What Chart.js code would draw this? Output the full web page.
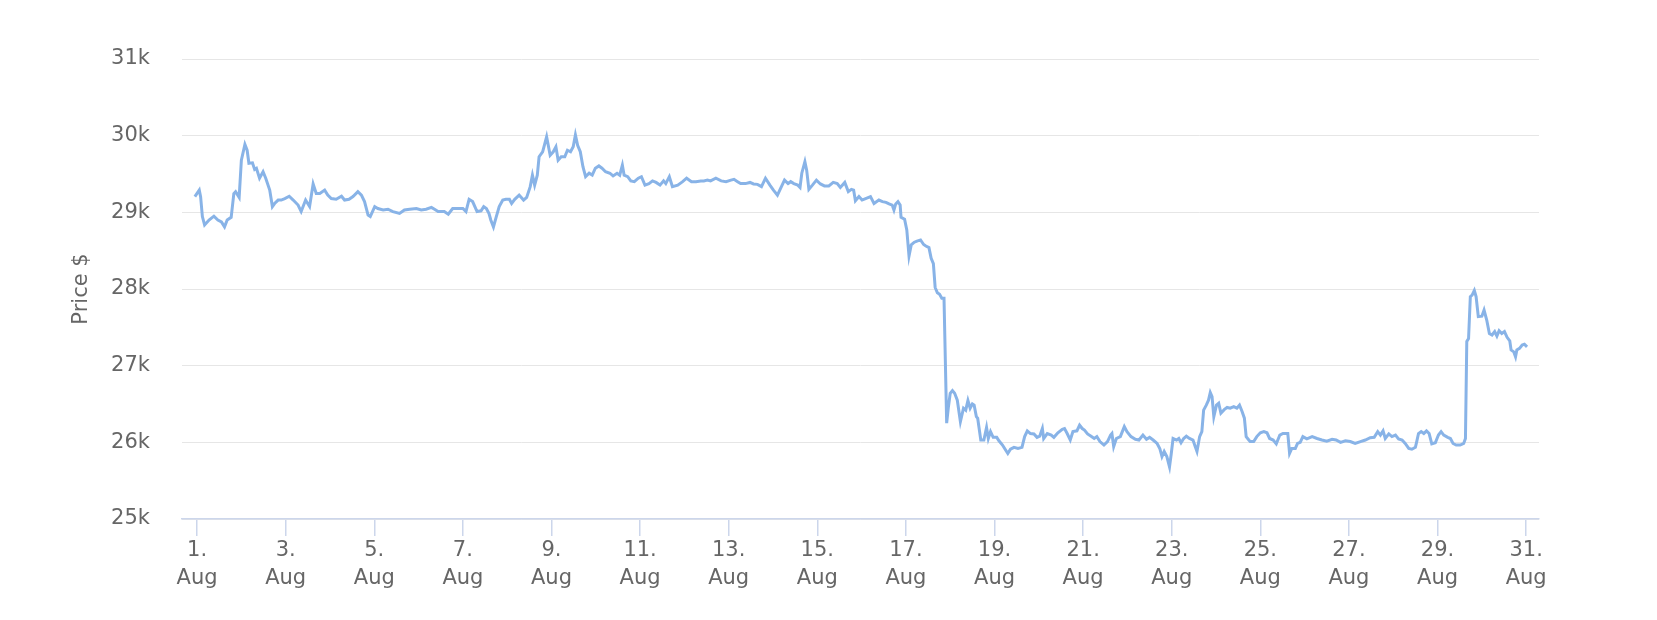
<!DOCTYPE html>
<html>
<head>
<meta charset="utf-8">
<title>Price $ - August</title>
<script src="https://cdn.jsdelivr.net/npm/chart.js@4.4.0/dist/chart.umd.min.js"></script>
<style>
  html, body { margin: 0; padding: 0; background: #ffffff; }
  #price-chart { display: block; }
</style>
</head>
<body>
<canvas id="price-chart" width="1657" height="620"></canvas>
<script>
// Fecha (dia del mes, fraccion = hora) y precio
const days = [
  0.95, 1.05, 1.08, 1.12, 1.17, 1.27, 1.38, 1.47, 1.55, 1.62, 1.68, 1.77, 1.83, 1.87, 1.95,
  2.00, 2.08, 2.13, 2.17, 2.25, 2.30, 2.34, 2.41, 2.49, 2.55, 2.64, 2.70, 2.75, 2.83, 2.90, 2.98,
  3.08, 3.17, 3.28, 3.35, 3.45, 3.54, 3.62, 3.69, 3.77, 3.88, 3.95,
  4.03, 4.14, 4.26, 4.33, 4.43, 4.52, 4.63, 4.71, 4.78, 4.86, 4.91,
  5.01, 5.08, 5.20, 5.31, 5.42, 5.57, 5.68, 5.80, 5.95,
  6.06, 6.17, 6.29, 6.36, 6.44, 6.58, 6.67, 6.77, 6.88,
  7.00, 7.07, 7.14, 7.22, 7.32, 7.41, 7.47, 7.53, 7.59, 7.63, 7.69, 7.75, 7.82, 7.90, 7.97,
  8.05, 8.10, 8.17, 8.27, 8.37, 8.44, 8.52, 8.57, 8.62, 8.68, 8.72, 8.80, 8.89, 8.97,
  9.04, 9.10, 9.15, 9.22, 9.30, 9.36, 9.43, 9.49, 9.54, 9.59, 9.65, 9.71, 9.77, 9.85, 9.92, 9.99,
  10.07, 10.14, 10.22, 10.32, 10.39, 10.48, 10.54, 10.60, 10.64, 10.72, 10.79, 10.87, 10.96,
  11.03, 11.11, 11.20, 11.28, 11.36, 11.45, 11.53, 11.58, 11.66, 11.73, 11.85, 11.96,
  12.05, 12.16, 12.26, 12.37, 12.44, 12.52, 12.59, 12.71, 12.83, 12.94,
  13.05, 13.12, 13.20, 13.27, 13.38, 13.48, 13.56, 13.65, 13.74, 13.83, 13.93,
  14.01, 14.10, 14.19, 14.26, 14.34, 14.40, 14.47, 14.56, 14.61, 14.65, 14.72, 14.76, 14.81, 14.89, 14.98,
  15.07, 15.16, 15.26, 15.36, 15.45, 15.52, 15.62, 15.70, 15.77, 15.82, 15.86, 15.94,
  16.01, 16.09, 16.20, 16.28, 16.39, 16.47, 16.55, 16.62, 16.69, 16.73, 16.77, 16.82, 16.87, 16.89, 16.97,
  17.02, 17.07, 17.12, 17.19, 17.25, 17.33, 17.40, 17.45, 17.52, 17.57, 17.62, 17.66, 17.71, 17.76, 17.81, 17.86, 17.92, 17.96,
  18.00, 18.05, 18.10, 18.16, 18.23, 18.30, 18.35, 18.40, 18.45, 18.50, 18.54, 18.59, 18.62, 18.69, 18.76, 18.82, 18.86, 18.91, 18.97,
  19.05, 19.10, 19.18, 19.25, 19.30, 19.36, 19.44, 19.53, 19.62, 19.68, 19.74, 19.81, 19.89, 19.96,
  20.02, 20.08, 20.11, 20.19, 20.28, 20.34, 20.43, 20.53, 20.58, 20.64, 20.71, 20.77, 20.86, 20.92, 20.98,
  21.03, 21.10, 21.18, 21.25, 21.31, 21.38, 21.47, 21.55, 21.62, 21.65, 21.69, 21.75, 21.84, 21.93, 21.99,
  22.08, 22.18, 22.26, 22.35, 22.43, 22.50, 22.58, 22.67, 22.73, 22.78, 22.83, 22.89, 22.95, 22.99,
  23.03, 23.11, 23.16, 23.21, 23.27, 23.33, 23.40, 23.48, 23.53, 23.57, 23.63, 23.68, 23.72, 23.78, 23.83, 23.87, 23.91, 23.95,
  24.01, 24.06, 24.11, 24.19, 24.25, 24.32, 24.40, 24.47, 24.53, 24.59, 24.64, 24.68, 24.74, 24.77, 24.85, 24.92,
  25.00, 25.08, 25.15, 25.21, 25.29, 25.36, 25.44, 25.51, 25.62, 25.66, 25.71, 25.79, 25.84, 25.90, 25.96,
  26.05, 26.17, 26.28, 26.39, 26.50, 26.62, 26.71, 26.81, 26.92,
  27.03, 27.14, 27.26, 27.37, 27.48, 27.57, 27.65, 27.71, 27.77, 27.82, 27.90, 27.97,
  28.05, 28.12, 28.20, 28.27, 28.35, 28.42, 28.50, 28.53, 28.57, 28.63, 28.69, 28.75, 28.81, 28.87, 28.95,
  29.02, 29.08, 29.14, 29.23, 29.29, 29.35, 29.42, 29.51, 29.59, 29.63, 29.66, 29.70, 29.74, 29.78, 29.83, 29.87, 29.92,
  30.00, 30.05, 30.11, 30.17, 30.23, 30.29, 30.34, 30.39, 30.45, 30.51, 30.57, 30.63, 30.66, 30.72, 30.76, 30.79, 30.85, 30.91, 30.96,
  31.02
];

const prices = [
  29205, 29290, 29205, 28945, 28835, 28900, 28950, 28900, 28875, 28810, 28900, 28935, 29245, 29270, 29195,
  29680, 29885, 29810, 29640, 29645, 29560, 29575, 29445, 29530, 29445, 29290, 29075, 29115, 29160, 29160, 29180,
  29210, 29160, 29095, 29010, 29160, 29075, 29370, 29245, 29245, 29290, 29225,
  29180, 29170, 29210, 29160, 29170, 29205, 29270, 29225, 29140, 28965, 28945,
  29075, 29050, 29030, 29040, 29010, 28985, 29030, 29040, 29050,
  29030, 29040, 29065, 29040, 29010, 29010, 28975, 29050, 29050,
  29050, 29010, 29170, 29140, 29010, 29020, 29075, 29050, 28985, 28900, 28810, 28935, 29075, 29160, 29170,
  29170, 29115, 29170, 29225, 29160, 29195, 29335, 29485, 29355, 29485, 29725, 29790, 29985, 29745,
  29790, 29855, 29680, 29725, 29725, 29810, 29790, 29855, 30010, 29875, 29790, 29595, 29465, 29510, 29485, 29575,
  29605, 29575, 29530, 29510, 29475, 29510, 29485, 29615, 29485, 29465, 29410, 29400, 29445,
  29465, 29355, 29375, 29410, 29390, 29355, 29410, 29375, 29465, 29335, 29355, 29400,
  29445, 29400, 29400, 29410, 29410, 29420, 29410, 29445, 29410, 29400,
  29420, 29430, 29400, 29375, 29375, 29390, 29370, 29365, 29335, 29445, 29355,
  29290, 29225, 29335, 29420, 29375, 29400, 29375, 29355, 29325, 29510, 29660, 29550, 29300, 29355, 29420,
  29370, 29345, 29345, 29390, 29375, 29325, 29390, 29270, 29300, 29290, 29150, 29205,
  29160, 29180, 29205, 29115, 29160, 29140, 29130, 29110, 29095, 29030, 29110, 29140, 29095, 28935, 28910,
  28770, 28430, 28575, 28610, 28625, 28640, 28580, 28560, 28540, 28400, 28330, 28020, 27950, 27930, 27880, 27880, 26250, 26465,
  26640, 26675, 26640, 26550, 26270, 26445, 26420, 26545, 26445, 26500, 26485, 26335, 26315, 26030, 26030, 26195, 26050, 26140, 26065,
  26065, 26020, 25965, 25900, 25855, 25910, 25935, 25920, 25935, 26075, 26150, 26115, 26110, 26065,
  26080, 26180, 26050, 26115, 26095, 26065, 26125, 26170, 26180, 26115, 26030, 26140, 26150, 26225, 26180,
  26160, 26110, 26080, 26050, 26075, 26010, 25965, 26010, 26095, 26115, 25945, 26050, 26075, 26205, 26140,
  26075, 26040, 26030, 26095, 26040, 26065, 26030, 25985, 25920, 25815, 25880, 25815, 25680, 25855,
  26050, 26030, 26050, 25995, 26050, 26080, 26050, 26030, 25945, 25880, 26075, 26140, 26420, 26485, 26550, 26650, 26595, 26335,
  26485, 26510, 26380, 26430, 26455, 26445, 26465, 26445, 26485, 26400, 26315, 26075, 26030, 26010, 26010, 26075,
  26125, 26140, 26125, 26050, 26030, 25980, 26095, 26115, 26115, 25855, 25920, 25920, 25985, 26000, 26075,
  26045, 26075, 26050, 26030, 26015, 26040, 26030, 26000, 26020,
  26010, 25985, 26010, 26030, 26060, 26065, 26140, 26095, 26150, 26050, 26110, 26075,
  26095, 26045, 26030, 25985, 25920, 25910, 25935, 26010, 26115, 26140, 26115, 26150, 26115, 25980, 25995,
  26095, 26140, 26095, 26065, 26050, 25985, 25965, 25965, 25985, 26050, 27315, 27355, 27900, 27920, 27980, 27900, 27640,
  27645, 27725, 27595, 27420, 27400, 27445, 27385, 27455, 27420, 27445, 27370, 27325, 27205, 27180, 27115, 27205, 27225, 27270, 27280,
  27245
];

// Etiquetas del eje x (dias impares) y del eje y
const tickDays = [1, 3, 5, 7, 9, 11, 13, 15, 17, 19, 21, 23, 25, 27, 29, 31];
const monthLabel = "Aug";
const yTicks = [25000, 26000, 27000, 28000, 29000, 30000, 31000];
const yTitle = "Price $";

const puntos = days.map((d, i) => ({ x: d, y: prices[i] }));

const ctx = document.getElementById("price-chart").getContext("2d");

new Chart(ctx, {
  type: "line",
  data: {
    datasets: [
      {
        label: yTitle,
        data: puntos,
        borderColor: "#88b3e7",
        borderWidth: 3,
        pointRadius: 0,
        tension: 0,
        fill: false,
      },
    ],
  },
  options: {
    responsive: false,
    animation: false,
    devicePixelRatio: 1,
    layout: {
      padding: { left: 0, top: 59, right: 118, bottom: 0 },
    },
    plugins: {
      legend: { display: false },
      tooltip: { enabled: false },
    },
    scales: {
      x: {
        type: "linear",
        min: 0.66,
        max: 31.29,
        afterBuildTicks: (scale) => {
          scale.ticks = tickDays.map((v) => ({ value: v }));
        },
        afterFit: (scale) => {
          scale.height = 101;
        },
        grid: {
          display: true,
          drawOnChartArea: false,
          drawTicks: true,
          tickLength: 17,
          color: "#ccd6eb",
          lineWidth: 1.5,
        },
        border: {
          display: true,
          color: "#ccd6eb",
          width: 1.5,
        },
        ticks: {
          autoSkip: false,
          maxRotation: 0,
          padding: 0,
          color: "#666666",
          font: { size: 21, family: "DejaVu Sans", lineHeight: 1.35 },
          callback: (value) => [value + ".", monthLabel],
        },
      },
      y: {
        min: 25000,
        max: 31000,
        afterBuildTicks: (scale) => {
          scale.ticks = yTicks.map((v) => ({ value: v }));
        },
        afterFit: (scale) => {
          scale.width = 182;
        },
        grid: {
          color: "#e6e6e6",
          lineWidth: 1,
          drawTicks: false,
        },
        border: { display: false },
        ticks: {
          padding: 32,
          color: "#666666",
          font: { size: 21, family: "DejaVu Sans" },
          callback: (value) => value / 1000 + "k",
        },
        title: {
          display: true,
          text: yTitle,
          color: "#666666",
          font: { size: 21, family: "DejaVu Sans" },
          padding: { top: 69, bottom: 0 },
        },
      },
    },
  },
});
</script>
</body>
</html>
